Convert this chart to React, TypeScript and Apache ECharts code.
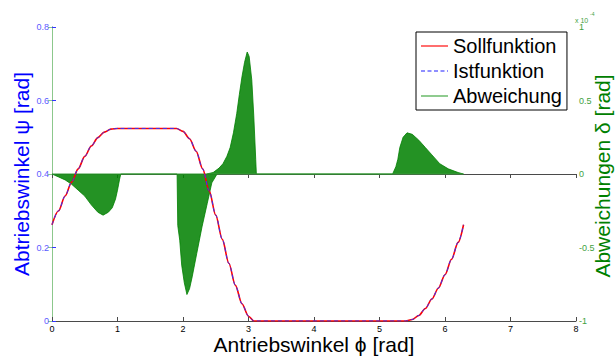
import React, { useEffect, useRef } from "react";
import * as echarts from "echarts";

// Antriebswinkel phi [rad] and Abtriebswinkel psi [rad] (Sollfunktion)
const sollPhi = [0, 0.1, 0.2, 0.3, 0.4, 0.5, 0.6, 0.7, 0.8, 0.9, 1.0, 1.9, 2.0, 2.1, 2.2, 2.3, 2.4, 2.5, 2.6, 2.7, 2.8, 2.9, 3.0, 3.08, 5.4, 5.5, 5.6, 5.7, 5.8, 5.9, 6.0, 6.1, 6.2, 6.283];
const sollPsi = [0.262, 0.3, 0.34, 0.378, 0.414, 0.448, 0.476, 0.499, 0.514, 0.522, 0.524, 0.524, 0.516, 0.496, 0.462, 0.414, 0.354, 0.288, 0.222, 0.157, 0.097, 0.047, 0.013, 0, 0, 0.004, 0.015, 0.034, 0.06, 0.09, 0.126, 0.168, 0.214, 0.262];

// Istfunktion (visually identical to Sollfunktion)
const istPhi = [0, 0.1, 0.2, 0.3, 0.4, 0.5, 0.6, 0.7, 0.8, 0.9, 1.0, 1.9, 2.0, 2.1, 2.2, 2.3, 2.4, 2.5, 2.6, 2.7, 2.8, 2.9, 3.0, 3.08, 5.4, 5.5, 5.6, 5.7, 5.8, 5.9, 6.0, 6.1, 6.2, 6.283];
const istPsi = [0.262, 0.3, 0.34, 0.378, 0.414, 0.448, 0.476, 0.499, 0.514, 0.522, 0.524, 0.524, 0.516, 0.496, 0.462, 0.414, 0.354, 0.288, 0.222, 0.157, 0.097, 0.047, 0.013, 0, 0, 0.004, 0.015, 0.034, 0.06, 0.09, 0.126, 0.168, 0.214, 0.262];

// Abweichung delta (x 1e-4 rad): envelope of the oscillation, positive side
const devPosPhi = [2.36, 2.46, 2.55, 2.61, 2.67, 2.72, 2.77, 2.82, 2.86, 2.9, 2.94, 2.98, 3.01, 3.05, 3.08, 3.11, 3.12, 5.2, 5.25, 5.28, 5.31, 5.36, 5.42, 5.5, 5.6, 5.7, 5.8, 5.92, 6.05, 6.2, 6.283];
const devPosVal = [0, 0.01, 0.04, 0.07, 0.12, 0.18, 0.28, 0.41, 0.54, 0.66, 0.76, 0.83, 0.8, 0.64, 0.4, 0.1, 0, 0, 0.05, 0.1, 0.18, 0.25, 0.28, 0.27, 0.23, 0.18, 0.13, 0.07, 0.035, 0.01, 0];

// Abweichung delta (x 1e-4 rad): envelope of the oscillation, negative side
const devNegPhi = [0, 0.1, 0.2, 0.3, 0.4, 0.5, 0.6, 0.7, 0.78, 0.86, 0.92, 0.97, 1.0, 1.03, 1.05, 1.91, 1.92, 1.95, 1.98, 2.02, 2.06, 2.1, 2.14, 2.21, 2.29, 2.37, 2.44, 2.52];
const devNegVal = [0, -0.02, -0.04, -0.07, -0.11, -0.15, -0.21, -0.26, -0.28, -0.26, -0.23, -0.17, -0.11, -0.04, 0, 0, -0.35, -0.45, -0.62, -0.74, -0.82, -0.78, -0.7, -0.54, -0.36, -0.2, -0.06, 0];

// Abweichung baseline
const devZeroPhi = [0, 6.283];
const devZeroVal = [0, 0];

const seriesNames = ["Sollfunktion", "Istfunktion", "Abweichung"];

const pairs = (xs: number[], ys: number[]) => xs.map((x, i) => [x, ys[i]]);

const FONT = "'Liberation Sans', Arial, sans-serif";
const GREEN = "#008000";
const SOLID_ICON = "path://M0,0h27v1.4h-27z";
const DASH_ICON = "path://M0,0h4v1.4h-4z M6.5,0h4v1.4h-4z M13,0h4v1.4h-4z M19.5,0h4v1.4h-4z M26,0h1v1.4h-1z";
const THIN_ICON = "path://M0,0h27v1.1h-27z";

export default function App() {
  const ref = useRef<HTMLDivElement>(null);

  useEffect(() => {
    if (!ref.current) return;
    const chart = echarts.init(ref.current, undefined, { renderer: "svg" });
    const axisGray = "#4a4a4a";
    const titleFont = "21px 'Liberation Sans', Arial, sans-serif";
    chart.setOption({
      animation: false,
      backgroundColor: "#ffffff",
      grid: { left: 52, right: 39, top: 27, bottom: 36, containLabel: false },
      legend: {
        data: [
          { name: seriesNames[0], icon: SOLID_ICON, itemStyle: { color: "#ff3030" } },
          { name: seriesNames[1], icon: DASH_ICON, itemStyle: { color: "#6a6aff" } },
          { name: seriesNames[2], icon: THIN_ICON, itemStyle: { color: "#33a033" } },
        ],
        orient: "vertical",
        left: 416,
        top: 32,
        itemWidth: 27,
        itemHeight: 1.4,
        itemGap: 5,
        padding: [4, 5, 4, 5],
        borderColor: "#000",
        borderWidth: 1,
        backgroundColor: "#fff",
        textStyle: { fontSize: 20, color: "#000", fontFamily: FONT },
        z: 10,
      },
      xAxis: [
        {
          type: "value",
          min: 0,
          max: 8,
          interval: 1,
          position: "bottom",
          axisLine: { show: true, lineStyle: { color: axisGray, width: 1 } },
          axisTick: { show: true, inside: true, length: 4, lineStyle: { color: axisGray } },
          axisLabel: { color: "#000", fontSize: 9, margin: 3, fontFamily: FONT },
          splitLine: { show: false },
        },
        {
          type: "value",
          min: 0,
          max: 8,
          interval: 1,
          position: "top",
          axisLine: { show: true, lineStyle: { color: axisGray, width: 1 } },
          axisTick: { show: true, inside: true, length: 4, lineStyle: { color: axisGray } },
          axisLabel: { show: false },
          splitLine: { show: false },
        },
      ],
      yAxis: [
        {
          type: "value",
          min: 0,
          max: 0.8,
          interval: 0.2,
          position: "left",
          axisLine: { show: true, lineStyle: { color: "#3333ff", width: 1 } },
          axisTick: { show: true, inside: true, length: 4, lineStyle: { color: "#3333ff" } },
          axisLabel: { color: "#5a5aff", fontSize: 9, margin: 3, fontFamily: FONT },
          splitLine: { show: false },
        },
        {
          type: "value",
          min: -1,
          max: 1,
          interval: 0.5,
          position: "right",
          axisLine: { show: true, lineStyle: { color: "#8cc88c", width: 1 } },
          axisTick: { show: true, inside: true, length: 4, lineStyle: { color: "#8cc88c" } },
          axisLabel: { color: "#3f9f3f", fontSize: 9, margin: 3, fontFamily: FONT },
          splitLine: { show: false },
        },
      ],
      graphic: [
        {
          type: "text",
          x: 21,
          y: 174,
          rotation: Math.PI / 2,
          style: {
            text: "Abtriebswinkel ψ [rad]",
            fill: "#0000ff",
            font: titleFont,
            textAlign: "center",
            textVerticalAlign: "middle",
            align: "center",
            verticalAlign: "middle",
          },
        },
        {
          type: "text",
          x: 602,
          y: 176,
          rotation: Math.PI / 2,
          style: {
            text: "Abweichungen δ [rad]",
            fill: GREEN,
            font: titleFont,
            textAlign: "center",
            textVerticalAlign: "middle",
            align: "center",
            verticalAlign: "middle",
          },
        },
        {
          type: "text",
          x: 314,
          y: 344,
          style: {
            text: "Antriebswinkel ϕ [rad]",
            fill: "#000",
            font: titleFont,
            textAlign: "center",
            textVerticalAlign: "middle",
            align: "center",
            verticalAlign: "middle",
          },
        },
        {
          type: "text",
          x: 575,
          y: 20,
          style: {
            text: "x 10",
            fill: "#3f9f3f",
            font: "7px 'Liberation Sans', Arial, sans-serif",
            textAlign: "left",
            textVerticalAlign: "middle",
            align: "left",
            verticalAlign: "middle",
          },
        },
        {
          type: "text",
          x: 590,
          y: 14,
          style: {
            text: "-4",
            fill: "#3f9f3f",
            font: "5px 'Liberation Sans', Arial, sans-serif",
            textAlign: "left",
            textVerticalAlign: "middle",
            align: "left",
            verticalAlign: "middle",
          },
        },
      ],
      series: [
        {
          name: "devNeg",
          type: "line",
          xAxisIndex: 0,
          yAxisIndex: 1,
          data: pairs(devNegPhi, devNegVal),
          symbol: "none",
          lineStyle: { color: GREEN, width: 0.8 },
          areaStyle: { color: GREEN, opacity: 0.86 },
          z: 1,
        },
        {
          name: "devPos",
          type: "line",
          xAxisIndex: 0,
          yAxisIndex: 1,
          data: pairs(devPosPhi, devPosVal),
          symbol: "none",
          lineStyle: { color: GREEN, width: 0.8 },
          areaStyle: { color: GREEN, opacity: 0.86 },
          z: 1,
        },
        {
          name: "Abweichung",
          type: "line",
          xAxisIndex: 0,
          yAxisIndex: 1,
          data: pairs(devZeroPhi, devZeroVal),
          symbol: "none",
          color: GREEN,
          lineStyle: { color: "#3a9a3a", width: 1 },
          z: 2,
        },
        {
          name: "Sollfunktion",
          type: "line",
          xAxisIndex: 0,
          yAxisIndex: 0,
          data: pairs(sollPhi, sollPsi),
          symbol: "none",
          smooth: 0.3,
          smoothMonotone: "x",
          color: "#ff0000",
          lineStyle: { color: "#ff0000", width: 1.6 },
          z: 3,
        },
        {
          name: "Istfunktion",
          type: "line",
          xAxisIndex: 0,
          yAxisIndex: 0,
          data: pairs(istPhi, istPsi),
          symbol: "none",
          smooth: 0.3,
          smoothMonotone: "x",
          color: "#3333ff",
          lineStyle: { color: "#3333ff", width: 1, type: [4, 3] },
          z: 4,
        },
      ],
    });
    return () => chart.dispose();
  }, []);

  return (
    <div
      ref={ref}
      style={{ position: "fixed", left: 0, top: 0, width: 615, height: 357, background: "#fff" }}
    />
  );
}
